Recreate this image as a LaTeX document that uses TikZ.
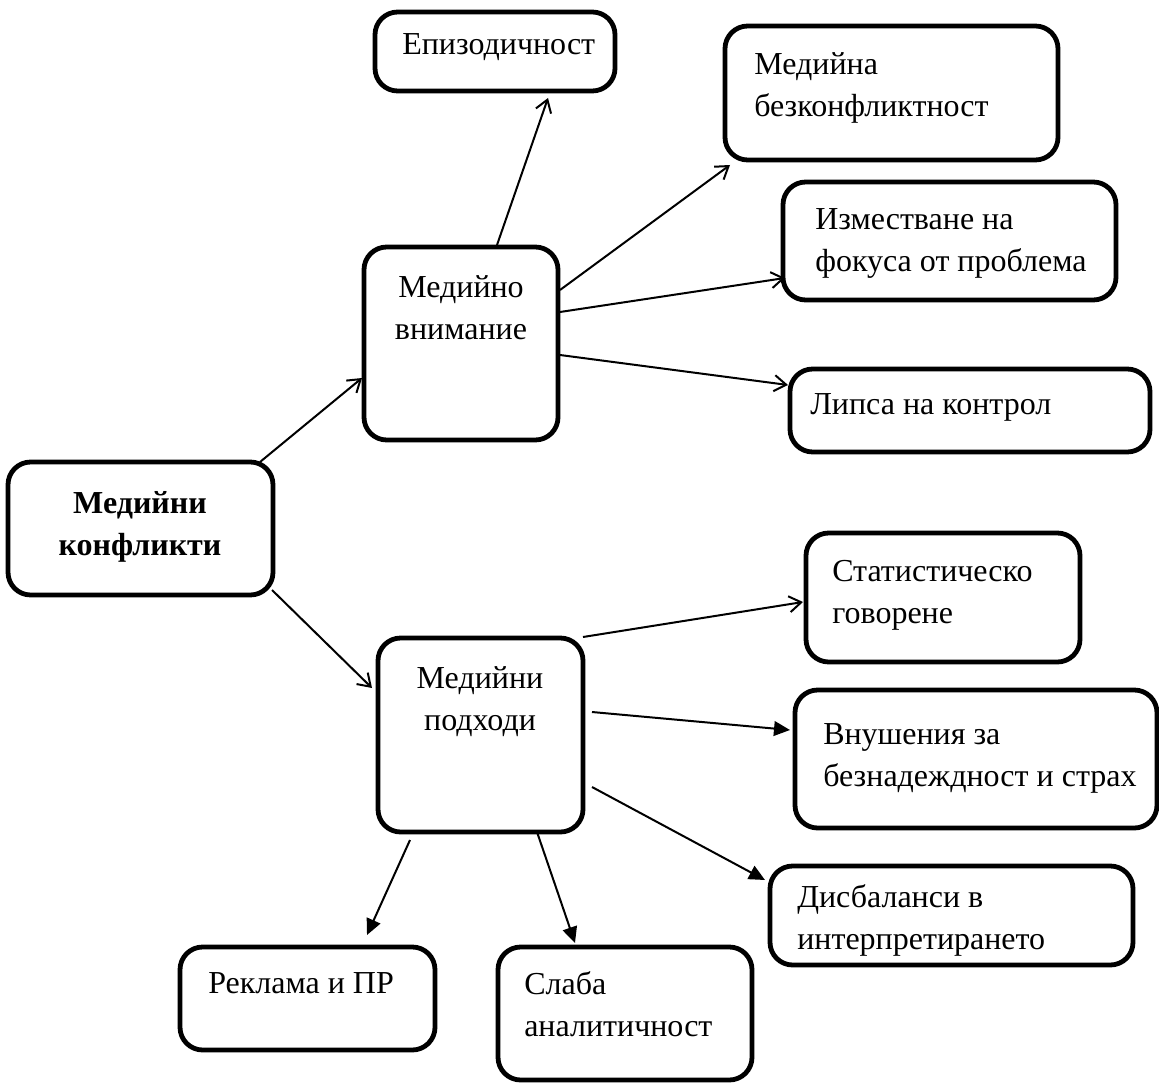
\documentclass[tikz,border=0pt]{standalone}
\usepackage{fontspec}
\setmainfont{Liberation Serif}
\usetikzlibrary{arrows.meta,calc}
\begin{document}
\begin{tikzpicture}[x=0.75pt,y=-0.75pt,
  box/.style 2 args={draw, line width=3.6pt, rounded corners=17pt, inner sep=0pt, outer sep=0pt,
    anchor=north west, minimum width=#1*0.75pt, minimum height=#2*0.75pt},
  txt/.style={anchor=base west, inner sep=0pt, align=left,
    font=\fontsize{24}{31.5}\selectfont},
  ctxt/.style={anchor=base, inner sep=0pt, align=center,
    font=\fontsize{24}{31.5}\selectfont},
  open/.style={line width=1.5pt, -{Straight Barb[length=9pt,width=12pt,line width=1.5pt]}},
  filled/.style={line width=1.5pt, -{Triangle[length=12pt,width=11pt]}}
]
\useasboundingbox (0,0) rectangle (1159,1084);
% boxes
\node[box={265}{133}] (mk) at (8,462) {};
\node[box={194}{193}] (vn) at (364,247) {};
\node[box={205}{194}] (pd) at (378,638) {};
\node[box={240}{79}]  (ep) at (375,12) {};
\node[box={333}{134}] (bk) at (725,26) {};
\node[box={333}{118}] (iz) at (783,182) {};
\node[box={360}{83}]  (lk) at (790,369) {};
\node[box={274}{129}] (st) at (806,533) {};
\node[box={362}{138}] (vu) at (795,690) {};
\node[box={363}{99}]  (db) at (770,866) {};
\node[box={255}{103}] (rk) at (180,947) {};
\node[box={254}{133}] (sl) at (498,947) {};
% texts (base = baseline of last line)
\node[ctxt, font=\fontsize{24}{31.5}\selectfont\bfseries] (tmk) at ($(mk.north west)+(132,93)$) {Медийни\\конфликти};
\node[ctxt] (tvn) at ($(vn.north west)+(97,92)$) {Медийно\\внимание};
\node[ctxt] (tpd) at ($(pd.north west)+(102,92)$) {Медийни\\подходи};
\node[txt] (tep) at ($(ep.north west)+(27,43)$) {Епизодичност};
\node[txt] (tbk) at ($(bk.north west)+(29,91)$) {Медийна\\безконфликтност};
\node[txt] (tiz) at ($(iz.north west)+(32,90)$) {Изместване на\\фокуса от проблема};
\node[txt] (tlk) at ($(lk.north west)+(20,45)$) {Липса на контрол};
\node[txt] (tst) at ($(st.north west)+(26,90)$) {Статистическо\\говорене};
\node[txt] (tvu) at ($(vu.north west)+(28,96)$) {Внушения за\\безнадеждност и страх};
\node[txt] (tdb) at ($(db.north west)+(27,83)$) {Дисбаланси в\\интерпретирането};
\node[txt] (trk) at ($(rk.north west)+(28,46)$) {Реклама и ПР};
\node[txt] (tsl) at ($(sl.north west)+(26,89)$) {Слаба\\аналитичност};
% connectors
\draw[open] ($(mk.north east)+(-13,0)$) -- ($(vn.north west)+(-2,131)$);
\draw[open] ($(mk.south east)+(-1,-5)$) -- ($(pd.north west)+(-6,50)$);
\draw[open] ($(vn.north west)+(133,-2)$) -- ($(ep.south west)+(173,7)$);
\draw[open] ($(vn.north east)+(2,43)$) -- ($(bk.south west)+(5,5)$);
\draw[open] ($(vn.north east)+(2,65)$) -- ($(iz.north west)+(2,96)$);
\draw[open] ($(vn.north east)+(2,108)$) -- ($(lk.north west)+(-2,16)$);
\draw[open] ($(pd.north east)+(0,-1)$) -- ($(st.north west)+(-3,69)$);
\draw[filled] ($(pd.north east)+(9,74)$) -- ($(vu.north west)+(-5,40)$);
\draw[filled] ($(pd.north east)+(9,149)$) -- ($(db.north west)+(-5,14)$);
\draw[filled] ($(pd.south west)+(32,8)$) -- ($(rk.north west)+(187,-12)$);
\draw[filled] ($(pd.south west)+(159,0)$) -- ($(sl.north west)+(77,-4)$);
\end{tikzpicture}
\end{document}
